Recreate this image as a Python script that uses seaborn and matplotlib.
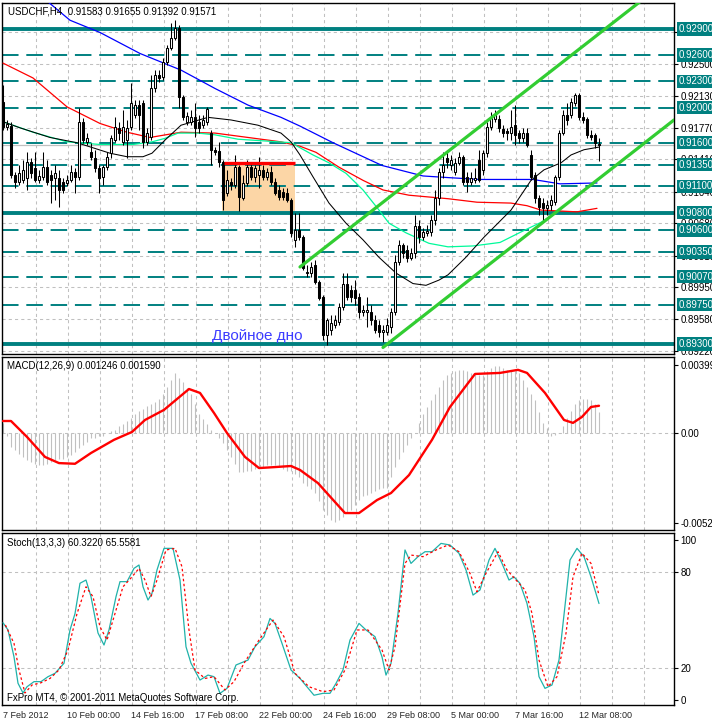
import numpy as np
import pandas as pd
import matplotlib
matplotlib.use("Agg")
import matplotlib.pyplot as plt
import matplotlib.transforms as mtransforms
from matplotlib.patches import Rectangle
import seaborn as sns

# ======================= DATA =======================
title_text = "USDCHF,H4  0.91583 0.91655 0.91392 0.91571"
macd_text = "MACD(12,26,9) 0.001246 0.001590"
stoch_text = "Stoch(13,3,3) 60.3220 65.5581"
footer_text = "FxPro MT4, \u00a9 2001-2011 MetaQuotes Software Corp."
pattern_text = "Двойное дно"

opens = [0.9206, 0.9178, 0.9179, 0.9123, 0.9115, 0.9117, 0.9120, 0.9138, 0.9131, 0.9117,
         0.9121, 0.9132, 0.9123, 0.9120, 0.9120, 0.9115, 0.9114, 0.9117, 0.9126, 0.9121,
         0.9184, 0.9161, 0.9149, 0.9142, 0.9131, 0.9121, 0.9132, 0.9148, 0.9163, 0.9177,
         0.9161, 0.9163, 0.9178, 0.9192, 0.9203, 0.9205, 0.9161, 0.9166, 0.9222, 0.9237,
         0.9235, 0.9252, 0.9268, 0.9280, 0.9291, 0.9212, 0.9184, 0.9184, 0.9189, 0.9184,
         0.9180, 0.9184, 0.9171, 0.9152, 0.9150, 0.9138, 0.9102, 0.9115, 0.9112, 0.9132,
         0.9097, 0.9114, 0.9132, 0.9121, 0.9123, 0.9129, 0.9121, 0.9126, 0.9115, 0.9106,
         0.9104, 0.9102, 0.9094, 0.9049, 0.9060, 0.9052, 0.9011, 0.9011, 0.9020, 0.9001,
         0.8984, 0.8940, 0.8946, 0.8952, 0.8955, 0.8972, 0.8999, 0.8992, 0.8992, 0.8984,
         0.8966, 0.8966, 0.8966, 0.8957, 0.8952, 0.8944, 0.8944, 0.8949, 0.8966, 0.9024,
         0.9043, 0.9037, 0.9028, 0.9034, 0.9065, 0.9052, 0.9057, 0.9058, 0.9072, 0.9097,
         0.9126, 0.9142, 0.9134, 0.9126, 0.9137, 0.9144, 0.9121, 0.9115, 0.9117, 0.9140,
         0.9129, 0.9148, 0.9178, 0.9187, 0.9187, 0.9176, 0.9173, 0.9171, 0.9180, 0.9171,
         0.9165, 0.9171, 0.9146, 0.9123, 0.9097, 0.9091, 0.9085, 0.9089, 0.9092, 0.9121,
         0.9171, 0.9192, 0.9192, 0.9205, 0.9214, 0.9189, 0.9187, 0.9169, 0.9169, 0.91583]
highs = [0.9226, 0.9186, 0.9184, 0.9126, 0.9134, 0.9140, 0.9149, 0.9142, 0.9149, 0.9129,
         0.9149, 0.9140, 0.9129, 0.9134, 0.9129, 0.9120, 0.9123, 0.9134, 0.9131, 0.9200,
         0.9188, 0.9171, 0.9160, 0.9152, 0.9134, 0.9134, 0.9149, 0.9169, 0.9189, 0.9184,
         0.9197, 0.9186, 0.9228, 0.9209, 0.9209, 0.9209, 0.9177, 0.9237, 0.9243, 0.9243,
         0.9257, 0.9272, 0.9297, 0.9300, 0.9295, 0.9214, 0.9195, 0.9197, 0.9205, 0.9192,
         0.9192, 0.9201, 0.9174, 0.9155, 0.9161, 0.9140, 0.9129, 0.9120, 0.9146, 0.9134,
         0.9123, 0.9140, 0.9138, 0.9134, 0.9144, 0.9134, 0.9131, 0.9133, 0.9120, 0.9112,
         0.9108, 0.9108, 0.9097, 0.9080, 0.9080, 0.9054, 0.9020, 0.9024, 0.9026, 0.9003,
         0.8986, 0.8960, 0.8963, 0.8963, 0.8977, 0.9011, 0.9011, 0.8997, 0.9003, 0.8988,
         0.8974, 0.8984, 0.8974, 0.8963, 0.8957, 0.8952, 0.8960, 0.8971, 0.9032, 0.9049,
         0.9045, 0.9043, 0.9040, 0.9077, 0.9072, 0.9062, 0.9066, 0.9077, 0.9106, 0.9131,
         0.9149, 0.9149, 0.9146, 0.9142, 0.9149, 0.9146, 0.9126, 0.9126, 0.9131, 0.9152,
         0.9152, 0.9184, 0.9195, 0.9197, 0.9192, 0.9180, 0.9177, 0.9197, 0.9203, 0.9174,
         0.9177, 0.9177, 0.9152, 0.9126, 0.9100, 0.9097, 0.9094, 0.9100, 0.9123, 0.9174,
         0.9197, 0.9205, 0.9211, 0.9217, 0.9217, 0.9195, 0.9189, 0.9174, 0.9171, 0.91655]
lows = [0.9174, 0.9174, 0.9120, 0.9108, 0.9112, 0.9114, 0.9106, 0.9120, 0.9115, 0.9114,
        0.9117, 0.9112, 0.9091, 0.9094, 0.9086, 0.9102, 0.9110, 0.9115, 0.9102, 0.9117,
        0.9160, 0.9157, 0.9140, 0.9126, 0.9102, 0.9112, 0.9129, 0.9142, 0.9161, 0.9163,
        0.9157, 0.9142, 0.9174, 0.9188, 0.9174, 0.9154, 0.9157, 0.9163, 0.9218, 0.9229,
        0.9232, 0.9249, 0.9266, 0.9277, 0.9200, 0.9186, 0.9180, 0.9180, 0.9166, 0.9171,
        0.9177, 0.9180, 0.9134, 0.9146, 0.9132, 0.9083, 0.9099, 0.9106, 0.9108, 0.9082,
        0.9094, 0.9110, 0.9117, 0.9115, 0.9108, 0.9117, 0.9117, 0.9112, 0.9100, 0.9094,
        0.9094, 0.9092, 0.9052, 0.9041, 0.9049, 0.9014, 0.9007, 0.9007, 0.8998, 0.8980,
        0.8934, 0.8929, 0.8940, 0.8948, 0.8952, 0.8969, 0.8980, 0.8978, 0.8974, 0.8960,
        0.8962, 0.8949, 0.8952, 0.8942, 0.8938, 0.8932, 0.8940, 0.8942, 0.8963, 0.9020,
        0.9028, 0.9024, 0.9026, 0.9028, 0.9045, 0.9049, 0.9053, 0.9053, 0.9066, 0.9089,
        0.9120, 0.9131, 0.9129, 0.9123, 0.9134, 0.9112, 0.9104, 0.9112, 0.9114, 0.9115,
        0.9123, 0.9144, 0.9174, 0.9184, 0.9172, 0.9166, 0.9163, 0.9163, 0.9157, 0.9160,
        0.9161, 0.9155, 0.9117, 0.9091, 0.9077, 0.9069, 0.9077, 0.9083, 0.9089, 0.9117,
        0.9169, 0.9180, 0.9188, 0.9202, 0.9186, 0.9182, 0.9165, 0.9163, 0.9154, 0.91392]
closes = [0.9178, 0.9181, 0.9123, 0.9115, 0.9125, 0.9129, 0.9138, 0.9125, 0.9117, 0.9122,
          0.9132, 0.9115, 0.9117, 0.9125, 0.9106, 0.9106, 0.9117, 0.9126, 0.9121, 0.9184,
          0.9163, 0.9165, 0.9144, 0.9131, 0.9120, 0.9132, 0.9144, 0.9165, 0.9178, 0.9171,
          0.9178, 0.9177, 0.9205, 0.9203, 0.9192, 0.9161, 0.9171, 0.9222, 0.9237, 0.9234,
          0.9252, 0.9268, 0.9280, 0.9291, 0.9212, 0.9189, 0.9190, 0.9189, 0.9177, 0.9177,
          0.9186, 0.9198, 0.9152, 0.9149, 0.9138, 0.9094, 0.9117, 0.9112, 0.9132, 0.9098,
          0.9114, 0.9132, 0.9121, 0.9131, 0.9129, 0.9121, 0.9126, 0.9115, 0.9102, 0.9098,
          0.9098, 0.9094, 0.9057, 0.9060, 0.9052, 0.9017, 0.9012, 0.9018, 0.9001, 0.8982,
          0.8940, 0.8957, 0.8954, 0.8957, 0.8972, 0.8999, 0.8984, 0.8984, 0.8982, 0.8966,
          0.8969, 0.8969, 0.8957, 0.8946, 0.8944, 0.8946, 0.8952, 0.8966, 0.9024, 0.9043,
          0.9034, 0.9028, 0.9034, 0.9065, 0.9052, 0.9058, 0.9059, 0.9072, 0.9097, 0.9126,
          0.9134, 0.9138, 0.9140, 0.9137, 0.9144, 0.9115, 0.9115, 0.9120, 0.9120, 0.9117,
          0.9148, 0.9178, 0.9188, 0.9192, 0.9177, 0.9171, 0.9171, 0.9178, 0.9169, 0.9165,
          0.9171, 0.9157, 0.9121, 0.9097, 0.9086, 0.9085, 0.9089, 0.9094, 0.9121, 0.9171,
          0.9192, 0.9186, 0.9206, 0.9214, 0.9189, 0.9186, 0.9169, 0.9166, 0.9160, 0.91571]
bars = list(range(len(opens)))

# moving averages (bar position, price)
ma_blue_x = [11.25, 16.75, 24.25, 34.25, 44.5, 53, 61.25, 69.5, 74.25, 82.5, 94.75, 105,
             111.75, 119.25, 132.5, 139.25, 148.5]
ma_blue_y = [0.9321, 0.9300, 0.9286, 0.9262, 0.9243, 0.9222, 0.9203, 0.9189, 0.9179, 0.9160,
             0.9134, 0.9122, 0.9120, 0.9118, 0.9118, 0.9113, 0.9114]
ma_red_x = [0, 7.5, 16, 24.25, 31, 36.75, 44.5, 53, 61.25, 69.5, 74.25, 78.25, 84, 90, 95,
            101.5, 111.25, 118.5, 127, 131, 134.5, 143.5, 148.5]
ma_red_y = [0.9251, 0.9234, 0.9201, 0.9182, 0.9172, 0.9166, 0.9172, 0.9171, 0.9166, 0.9161,
            0.9156, 0.9149, 0.9132, 0.9117, 0.9106, 0.9100, 0.9096, 0.9092, 0.9091, 0.9088,
            0.9083, 0.9081, 0.9085]
ma_green_x = [0, 7.5, 16, 24.25, 32.5, 37.25, 40.5, 43.75, 48.75, 53, 58.75, 65.5, 72, 77.5,
              81.5, 85.75, 90, 94, 96.5, 100.75, 106.5, 111.25, 117.5, 124.25, 129.5, 134.5, 136.25]
ma_green_y = [0.9184, 0.9172, 0.9161, 0.9158, 0.9158, 0.9161, 0.9165, 0.9171, 0.9171, 0.9169,
              0.9164, 0.9162, 0.9160, 0.9146, 0.9137, 0.9125, 0.9106, 0.9083, 0.9068, 0.9057,
              0.9045, 0.9041, 0.9042, 0.9046, 0.9058, 0.9069, 0.9074]
ma_black_x = [0, 4.25, 11.75, 18.5, 26.75, 31, 35, 37.25, 40.5, 44.5, 51.25, 57, 63.75, 69.5,
              72, 74.25, 77.5, 81.5, 85.75, 90, 94, 98.25, 102.5, 105.75, 109, 111.25, 115.5,
              120.25, 127, 132, 135.25, 139.5, 142, 145.25, 149]
ma_black_y = [0.9184, 0.9177, 0.9166, 0.9160, 0.9148, 0.9144, 0.9144, 0.9148, 0.9163, 0.9180,
              0.9189, 0.9186, 0.9180, 0.9171, 0.9161, 0.9146, 0.9121, 0.9091, 0.9068, 0.9049,
              0.9029, 0.9011, 0.8999, 0.8997, 0.9003, 0.9009, 0.9028, 0.9052, 0.9083, 0.9117,
              0.9129, 0.9137, 0.9146, 0.9152, 0.9155]

# trend channel (bar position, price)
channel_upper_x = [74.25, 162.0]
channel_upper_y = [0.9018, 0.9331]
channel_lower_x = [95.0, 167.75]
channel_lower_y = [0.8926, 0.9186]

# consolidation box
box_x = [54.75, 73.0]
box_y = [0.9082, 0.9137]

# horizontal levels
solid_levels = [0.92900, 0.90800, 0.89300]
dashed_levels = [0.92600, 0.92300, 0.92000, 0.91600, 0.91350, 0.91100, 0.90600, 0.90350,
                 0.90070, 0.89750]
bid_price = 0.91571
price_grid = [0.92860, 0.92500, 0.92130, 0.91770, 0.91410, 0.91040, 0.90680, 0.90310,
              0.89950, 0.89580, 0.89220]

# MACD main (histogram, per bar)
macd_hist = [0.0006, -0.0002, -0.0008, -0.0010, -0.0012, -0.0014, -0.0016, -0.0017, -0.0018, -0.0019,
             -0.0019, -0.0018, -0.0017, -0.0016, -0.0015, -0.0015, -0.0014, -0.0013, -0.0011, -0.0009,
             -0.0007, -0.0005, -0.0003, -0.0003, -0.0002, -0.0002, 0.0000, 0.0001, 0.0002, 0.0004,
             0.0005, 0.0007, 0.0009, 0.0011, 0.0013, 0.0014, 0.0016, 0.0017, 0.0018, 0.0020,
             0.0023, 0.0027, 0.0031, 0.0035, 0.0032, 0.0030, 0.0026, 0.0023, 0.0017, 0.0011,
             0.0008, 0.0005, 0.0002, 0.0000, -0.0003, -0.0006, -0.0010, -0.0014, -0.0018, -0.0023,
             -0.0023, -0.0022, -0.0022, -0.0021, -0.0020, -0.0020, -0.0019, -0.0019, -0.0019, -0.0020,
             -0.0021, -0.0022, -0.0022, -0.0024, -0.0026, -0.0029, -0.0031, -0.0033, -0.0035, -0.0040,
             -0.0045, -0.0048, -0.0051, -0.0052, -0.0051, -0.0049, -0.0047, -0.0045, -0.0042, -0.0039,
             -0.0037, -0.0036, -0.0035, -0.0034, -0.0033, -0.0032, -0.0032, -0.0026, -0.0020, -0.0015,
             -0.0011, -0.0007, -0.0003, 0.0000, 0.0006, 0.0011, 0.0015, 0.0019, 0.0023, 0.0027,
             0.0031, 0.0034, 0.0035, 0.0036, 0.0037, 0.0037, 0.0036, 0.0035, 0.0035, 0.0034,
             0.0034, 0.0036, 0.0038, 0.0039, 0.0039, 0.0038, 0.0037, 0.0036, 0.0036, 0.0035,
             0.0031, 0.0027, 0.0023, 0.0019, 0.0012, 0.0006, 0.0003, -0.0002, -0.0001, 0.0000,
             0.0004, 0.0009, 0.0013, 0.0017, 0.0019, 0.0020, 0.0020, 0.0019, 0.0017, 0.001246]
macd_sig_x = [0, 2, 6, 10.5, 14, 18, 22, 27.75, 32.25, 35.5, 40.25, 46.5, 49.25, 52.75, 56,
              60.5, 64, 67.5, 72, 74.25, 78.75, 83.25, 85.5, 89, 93.5, 97, 101.5, 107.25,
              111.75, 118, 124.25, 128.75, 131, 135.5, 140.25, 142.5, 144.75, 147, 149]
macd_sig_y = [0.0007, 0.0007, -0.00023, -0.0014, -0.00176, -0.0018, -0.00117, -0.0004, 0.00006,
              0.00076, 0.00135, 0.00257, 0.00234, 0.00117, 0.0, -0.0014, -0.00205, -0.002,
              -0.00193, -0.00216, -0.00293, -0.0041, -0.00468, -0.00468, -0.00392, -0.00351,
              -0.00246, -0.0004, 0.00152, 0.00345, 0.00351, 0.00369, 0.00351, 0.00234, 0.00076,
              0.00059, 0.00094, 0.00152, 0.00159]
macd_ticks = [0.00399, 0.0, -0.00525]
macd_tick_labels = ["0.00399", "0.00", "-0.00525"]

# Stochastic
stoch_main_x = [0, 1.25, 2.75, 3.75, 5, 6, 7.75, 9.5, 11.25, 13, 15.25, 16.75, 18, 19.25, 20.75,
                22, 23.75, 25.25, 26.5, 28.25, 29.25, 31, 32.75, 34, 35, 36.25, 37.25, 38.5,
                40.25, 42.5, 44.25, 45.75, 47, 49.25, 51.25, 52.75, 54.25, 56, 58.25, 61.25, 63,
                65.25, 66.75, 68, 69.75, 72, 74.25, 77.75, 80, 81.75, 83.25, 85, 86.75, 89,
                90.75, 93, 94.75, 95.75, 97, 98.75, 100.5, 102, 103.75, 105.5, 107.25, 109.5,
                111.75, 114, 115.75, 117.5, 119.25, 121.5, 123, 124.75, 126.5, 127.75, 129.25,
                131, 132.75, 134, 135.5, 137.25, 139, 140.75, 141.75, 143.5, 145.25, 147, 149]
stoch_main_y = [48.3, 43.8, 27, 10.5, 4.4, 8.3, 11.5, 11.5, 14.6, 16.7, 23, 43.8, 54, 73, 75,
                64.6, 41.9, 34.4, 43.8, 64.6, 74, 74, 82.3, 84.4, 70.8, 62.5, 66.7, 81.3,
                94.8, 94.8, 75, 33.3, 23, 12.5, 15.6, 14.6, 4.2, 7.3, 21.9, 25, 33.3,
                39.6, 51, 47.9, 35.4, 18.8, 13.5, 3, 4.2, 4.2, 10.4, 18.8, 37.5, 47.9,
                43.8, 39.6, 27, 15.6, 22.9, 54.2, 93.8, 85.4, 89.6, 92.7, 92.7, 97.9,
                96.9, 91.7, 81.3, 65.6, 68.8, 87.5, 94.8, 85.4, 75, 77, 72.9,
                60.4, 39.6, 14.6, 7.3, 9.4, 25, 64.6, 87.5, 94.8, 89.6, 77, 60.322]
stoch_sig_x = [0.6, 2.75, 4, 5.5, 7.25, 9.5, 11.75, 14, 16.25, 18.5, 20.75, 22.5, 24.25, 26,
               27.75, 30, 32.25, 34, 35.5, 37, 38.5, 40.75, 43, 44.75, 46.5, 48, 50.5, 52.75,
               55.5, 57.75, 60.5, 64, 67.5, 70.25, 73, 76.5, 80, 82.75, 85.5, 88.5, 91.25,
               94.75, 96.5, 98, 100.5, 102, 105, 108.25, 111.25, 114, 116.75, 118.5, 120.75,
               123.75, 126, 128.25, 130.5, 132.25, 134, 136.25, 138.5, 140.75, 142.5, 144.75,
               147, 149]
stoch_sig_y = [46.9, 35.4, 18.8, 4.4, 9.4, 10.8, 13.5, 18.8, 31.3, 54, 70.8, 64.6, 45.8, 37.5,
               52, 70.8, 77, 82.3, 75, 64.6, 75, 93.8, 94.8, 83.3, 43.8, 18.8, 13.5, 14.6,
               6.3, 11.5, 24, 37.5, 50, 39.6, 16.7, 8.3, 5.2, 6.3, 18.8, 43.8, 43.8,
               31.3, 18.8, 33.3, 85.4, 90.6, 89.6, 93.8, 96.9, 92.7, 79.2, 67.7, 79.2,
               92.7, 81.3, 75, 68.8, 54.2, 25, 8.3, 14.6, 41.7, 77, 91.7,
               85.4, 65.558]
stoch_ticks = [100, 80, 20, 0]
stoch_levels = [80, 20]

x_tick_bars = [0, 16, 32, 48, 64, 80, 96, 112, 128, 144]
x_tick_labels = ["7 Feb 2012", "10 Feb 00:00", "14 Feb 16:00", "17 Feb 08:00", "22 Feb 00:00",
                 "24 Feb 16:00", "29 Feb 08:00", "5 Mar 00:00", "7 Mar 16:00", "12 Mar 08:00"]

# ======================= STYLE =======================
sns.set_style("white")
plt.rcParams['font.family'] = ['Liberation Sans', 'DejaVu Sans']

TEAL = '#008080'
GRAY = '#C0C0C0'
W, H = 712, 724
fig = plt.figure(figsize=(W / 100, H / 100), dpi=100)
fig.patch.set_facecolor('white')


def add_panel(top, bottom):
    return fig.add_axes([2 / W, 1 - bottom / H, 672 / W, (bottom - top) / H])


ax1 = add_panel(3, 354)
ax2 = add_panel(357, 530)
ax3 = add_panel(533, 705)
axes = [ax1, ax2, ax3]

grid_kw = dict(color=GRAY, lw=0.75, ls=(0, (3, 3)), zorder=0.5)
for ax in axes:
    ax.set_facecolor('white')
    ax.set_xlim(-0.25, 167.75)
    for v in range(8, 168, 8):
        ax.axvline(v + 0.25, **grid_kw)
    for s in ax.spines.values():
        s.set_color('black')
        s.set_linewidth(1.0)
    ax.yaxis.tick_right()
    ax.tick_params(axis='y', right=True, left=False, length=3, width=0.8,
                   labelsize=7, pad=1.5, colors='black', direction='out')
    ax.tick_params(axis='x', bottom=False, labelbottom=False)


def sline(ax, xs, ys, **kw):
    df = pd.DataFrame({'x': xs, 'y': ys})
    sns.lineplot(data=df, x='x', y='y', ax=ax, sort=False, estimator=None,
                 errorbar=None, legend=False, **kw)
    ax.set_xlabel('')
    ax.set_ylabel('')


# ---------------- main price panel ----------------
ax1.set_ylim(0.89185, 0.93197)
for p in price_grid:
    ax1.axhline(p, **grid_kw)
ax1.set_yticks(price_grid)
ax1.set_yticklabels([f"{p:.5f}" for p in price_grid])

ax1.add_patch(Rectangle((box_x[0], box_y[0]), box_x[1] - box_x[0], box_y[1] - box_y[0],
                        facecolor='#FCD6A6', edgecolor='none', zorder=1))
ax1.plot([box_x[0] + 0.5, box_x[1]], [box_y[1], box_y[1]], color='#FF0000', lw=2.4,
         solid_capstyle='butt', zorder=6)

for lv in solid_levels:
    ax1.axhline(lv, color=TEAL, lw=2.8, zorder=2)
for lv in dashed_levels:
    ax1.axhline(lv, color=TEAL, lw=1.4, ls=(0, (8.5, 4)), zorder=2)
ax1.axhline(bid_price, color=GRAY, lw=0.9, zorder=2)

sline(ax1, ma_blue_x, ma_blue_y, color='#0000FF', lw=0.9, zorder=3)
sline(ax1, ma_red_x, ma_red_y, color='#FF0000', lw=0.9, zorder=3)
sline(ax1, ma_green_x, ma_green_y, color='#00FA9A', lw=0.9, zorder=3)
sline(ax1, ma_black_x, ma_black_y, color='black', lw=0.75, zorder=3)

o = np.array(opens)
h = np.array(highs)
l = np.array(lows)
c = np.array(closes)
xb = np.array(bars)
ax1.vlines(xb, l, h, color='black', lw=0.75, zorder=4)
up = c >= o
ax1.bar(xb[up], (c - o)[up], bottom=o[up], width=0.55, color='white',
        edgecolor='black', linewidth=0.75, zorder=5)
ax1.bar(xb[~up], (o - c)[~up], bottom=c[~up], width=0.55, color='black',
        edgecolor='black', linewidth=0.75, zorder=5)

ax1.plot(channel_upper_x, channel_upper_y, color='#32CD32', lw=2.3, zorder=7)
ax1.plot(channel_lower_x, channel_lower_y, color='#32CD32', lw=2.3, zorder=7)

ax1.text(52.25, 0.89391, pattern_text, color='#3C3CFF', fontsize=11,
         ha='left', va='center', zorder=8)
ax1.text(6 / 672, 1 - 9 / 351, title_text, transform=ax1.transAxes, fontsize=7,
         ha='left', va='center', color='black', zorder=9)

trans = mtransforms.blended_transform_factory(ax1.transAxes, ax1.transData)
for lv in solid_levels + dashed_levels:
    ax1.text(1 + 5 / 672, lv, f"{lv:.5f}", transform=trans, ha='left', va='center',
             color='white', fontsize=7, clip_on=False, zorder=10,
             bbox=dict(boxstyle='square,pad=0.18', fc=TEAL, ec='none'))

# ---------------- MACD panel ----------------
ax2.set_ylim(-0.00567, 0.00444)
ax2.axhline(0, **grid_kw)
ax2.vlines(xb, 0, macd_hist, color=GRAY, lw=0.8, zorder=2)
sline(ax2, macd_sig_x, macd_sig_y, color='#FF0000', lw=1.7, zorder=3)
ax2.set_yticks(macd_ticks)
ax2.set_yticklabels(macd_tick_labels)
ax2.text(5 / 672, 1 - 9 / 173, macd_text, transform=ax2.transAxes, fontsize=7,
         ha='left', va='center', color='black')

# ---------------- Stochastic panel ----------------
ax3.set_ylim(-3.1, 104.4)
for lv in stoch_levels:
    ax3.axhline(lv, **grid_kw)
sline(ax3, stoch_main_x, stoch_main_y, color='#20B2AA', lw=0.9, zorder=3)
sline(ax3, stoch_sig_x, stoch_sig_y, color='#FF0000', lw=0.9, linestyle=(0, (2, 2)), zorder=4)
ax3.set_yticks(stoch_ticks)
ax3.set_yticklabels([str(t) for t in stoch_ticks])
ax3.text(5 / 672, 1 - 10 / 172, stoch_text, transform=ax3.transAxes, fontsize=7,
         ha='left', va='center', color='black')
ax3.text(5 / 672, 1 - 165 / 172, footer_text, transform=ax3.transAxes, fontsize=7,
         ha='left', va='center', color='black')

ax3.set_xticks(x_tick_bars)
ax3.set_xticklabels(x_tick_labels)
ax3.tick_params(axis='x', bottom=True, labelbottom=True, length=0, pad=4.5, labelsize=6.5)
for lab in ax3.get_xticklabels():
    lab.set_horizontalalignment('left')

fig.savefig('out.png', dpi=100, facecolor='white')
